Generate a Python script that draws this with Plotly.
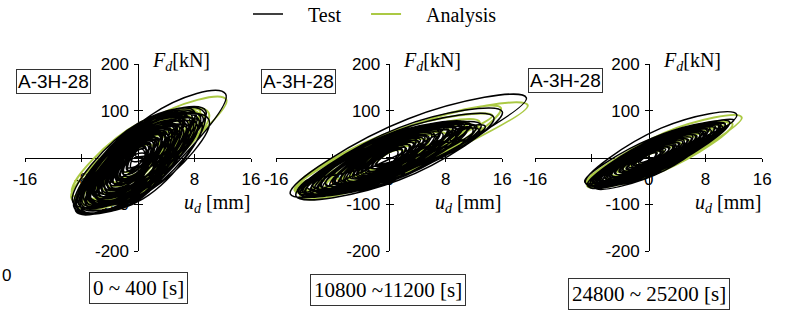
import plotly.graph_objects as go

# ---------------- DATA ----------------
# Each hysteresis cycle: positive tip (u+, F+), negative tip (u-, F-), half-width of loop at its centre (kN)
X_TICKS = [-16, -8, 0, 8, 16]
X_TICK_TEXT = ["-16", "-8", "0", "8", "16"]
Y_TICKS = [-200, -100, 0, 100, 200]
Y_TICK_TEXT = ["-200", "-100", "", "100", "200"]
SPECIMEN = "A-3H-28"
WINDOWS = ["0 ~ 400 [s]", "10800 ~11200 [s]", "24800 ~ 25200 [s]"]

# Panel 1 : 0 ~ 400 s
P1_TEST_UP  = [12.4, 10.0, 9.4, 8.8, 9.0, 8.2, 7.8, 8.4, 7.2, 6.8, 7.4, 6.2, 5.8, 6.4, 5.2, 4.8, 5.6, 4.2, 3.8, 4.4, 3.2, 2.8, 3.4, 2.2, 1.8, 1.2, 6.6, 7.0, 5.0, 8.0, 4.0,
               9.6, 7.0, 5.4, 8.6, 6.0, 4.6, 7.6, 3.6, 9.2, 5.0, 6.8, 2.6, 8.2, 4.0, 6.4,
               3.0, 2.0, 1.4, 2.6, 3.8, 1.0, 4.6, 2.2, 3.4, 0.8, 5.2, 1.6,
               2.4, 1.0, 3.0, 0.6, 1.8]
P1_TEST_FUP = [136, 82, 96, 88, 74, 92, 80, 70, 86, 72, 64, 78, 66, 60, 70, 58, 54, 60, 50, 46, 48, 40, 36, 32, 26, 18, 84, 62, 64, 98, 44,
               100, 76, 68, 82, 74, 56, 90, 50, 86, 52, 70, 34, 76, 54, 80,
               48, 36, 26, 42, 54, 20, 62, 38, 50, 16, 66, 30,
               44, 24, 40, 10, 30]
P1_TEST_UN  = [-8.8, -8.6, -9.2, -8.0, -7.6, -8.4, -7.2, -6.8, -7.8, -6.4, -6.0, -7.0, -5.6, -5.2, -6.2, -4.8, -4.4, -5.4, -4.0, -3.6, -4.6, -3.2, -2.8, -3.0, -2.2, -1.6, -8.8, -5.0, -6.6, -6.0, -7.4,
               -7.0, -8.2, -6.8, -9.0, -5.4, -7.2, -6.6, -5.8, -8.0, -4.2, -8.6, -3.8, -7.0, -5.0, -6.0,
               -3.8, -2.8, -2.0, -3.4, -4.6, -1.4, -5.6, -3.0, -4.2, -1.0, -6.0, -2.4,
               -1.0, -2.0, -0.4, -2.6, -1.6]
P1_TEST_FUN = [-115, -106, -96, -110, -92, -100, -88, -84, -98, -80, -76, -90, -72, -68, -82, -64, -60, -74, -56, -52, -66, -46, -42, -44, -34, -26, -112, -70, -94, -86, -100,
               -92, -104, -94, -108, -80, -96, -90, -84, -100, -62, -110, -52, -88, -76, -84,
               -62, -48, -38, -56, -70, -28, -78, -52, -66, -22, -82, -42,
               -6, -30, 4, -40, -20]
P1_TEST_W   = [80, 76, 74, 72, 68, 72, 66, 62, 68, 60, 56, 62, 54, 50, 56, 48, 44, 48, 40, 38, 42, 34, 30, 30, 24, 18, 74, 54, 58, 70, 50,
               74, 72, 62, 78, 58, 56, 68, 46, 78, 48, 70, 32, 72, 50, 64,
               40, 34, 28, 38, 46, 22, 52, 36, 44, 18, 56, 30,
               22, 18, 16, 16, 20]

P1_ANA_UP  = [12.5, 10.0, 9.4, 8.6, 8.0, 7.2, 6.6, 6.0, 5.2, 4.6, 3.8, 3.0, 2.2, 8.8, 7.6, 5.6]
P1_ANA_FUP = [124, 96, 88, 94, 80, 76, 70, 64, 56, 50, 42, 34, 24, 100, 84, 62]
P1_ANA_UN  = [-9.4, -9.3, -8.8, -8.0, -7.6, -7.0, -6.4, -5.8, -5.2, -4.6, -3.8, -3.0, -2.2, -7.8, -8.6, -6.8]
P1_ANA_FUN = [-88, -78, -100, -96, -90, -84, -78, -70, -64, -56, -48, -38, -28, -104, -92, -86]
P1_ANA_W   = [62, 66, 70, 66, 64, 60, 56, 52, 48, 42, 36, 30, 22, 68, 64, 58]

# Panel 2 : 10800 ~ 11200 s
P2_TEST_UP  = [19.4, 16.0, 14.8, 13.0, 12.2, 11.4, 11.0, 10.4, 9.8, 9.4, 8.8, 8.2, 7.6, 7.0, 6.6, 6.0, 5.4, 4.8, 4.2, 3.6, 3.0, 2.4, 1.8, 10.8, 9.0, 13.6, 12.8, 11.8, -8.8, -9.6, 7.8,
               10.0, 8.4, 6.4, 11.6, 7.2, 5.0, 9.0, 12.4, 4.0, 10.6,
               3.4, 2.2, 1.2, 4.4, 2.8, 5.6, 1.8, 3.8]
P2_TEST_FUP = [128, 98, 86, 70, 64, 72, 60, 66, 58, 64, 54, 60, 50, 56, 46, 50, 42, 40, 34, 30, 26, 20, 16, 74, 62, 66, 58, 62, -40, -48, 64,
               66, 60, 50, 70, 58, 44, 64, 66, 36, 70,
               30, 22, 14, 38, 26, 44, 18, 34]
P2_TEST_UN  = [-14.0, -13.2, -12.4, -12.0, -11.6, -11.2, -10.8, -10.2, -9.8, -9.4, -9.0, -8.4, -7.8, -7.2, -6.8, -6.2, -5.6, -5.0, -4.4, -3.8, -3.2, -2.6, -2.0, -12.6, -11.8, 8.6, 9.4, 7.6, -13.0, -12.6, -10.6,
               -11.0, -9.6, -8.0, -12.2, -7.0, -9.0, -6.0, -10.0, -7.6, -12.8,
               -4.0, -3.0, -1.8, -5.2, -3.4, -6.4, -2.4, -4.6]
P2_TEST_FUN = [-78, -82, -70, -76, -64, -72, -62, -68, -60, -66, -56, -60, -52, -56, -48, -50, -42, -40, -36, -32, -28, -22, -18, -78, -74, 38, 44, 34, -72, -78, -70,
               -66, -62, -54, -74, -50, -58, -46, -66, -52, -76,
               -34, -26, -18, -42, -30, -48, -22, -38]
P2_TEST_W   = [58, 56, 50, 46, 42, 44, 40, 42, 38, 40, 36, 36, 34, 34, 30, 30, 27, 25, 22, 20, 17, 14, 11, 46, 44, 14, 12, 14, 14, 12, 42,
               44, 40, 34, 46, 34, 32, 36, 44, 28, 46,
               24, 20, 14, 28, 22, 32, 16, 26]

P2_ANA_UP  = [19.6, 15.8, 12.8, 11.6, 10.4, 9.2, 8.0, 6.8, 5.6, 4.4, 3.2, 2.0, 13.4, -9.4, 14.6, 11.0]
P2_ANA_FUP = [112, 106, 76, 70, 64, 56, 50, 44, 36, 30, 22, 14, 60, -50, 90, 72]
P2_ANA_UN  = [-13.4, -12.6, -12.0, -11.0, -10.0, -9.0, -7.8, -6.6, -5.4, -4.2, -3.0, -1.8, 9.0, -13.2, -13.0, -12.4]
P2_ANA_FUN = [-70, -84, -66, -72, -60, -62, -52, -46, -38, -30, -22, -14, 40, -68, -62, -76]
P2_ANA_W   = [48, 48, 40, 38, 36, 34, 30, 27, 24, 20, 16, 12, 12, 12, 44, 40]

# Panel 3 : 24800 ~ 25200 s
P3_TEST_UP  = [12.4, 11.4, 10.8, 10.4, 10.0, 9.6, 9.2, 8.8, 8.4, 8.0, 7.6, 7.2, 6.6, 6.0, 5.4, 4.8, 4.2, 3.6, 3.0, 2.4, 1.8, 1.2, 12.0, 9.8, 8.6,
               10.2, 8.2, 6.2, 9.4, 7.4, 5.0, 10.8, 3.8,
               3.4, 2.0, 1.0, 4.4, 2.8, 5.6, 1.6, 3.8, 6.8, 7.8]
P3_TEST_FUP = [92, 76, 70, 66, 68, 62, 64, 58, 60, 54, 56, 50, 46, 42, 38, 34, 30, 26, 22, 18, 14, 10, 80, 70, 64,
               70, 58, 46, 66, 52, 36, 72, 28,
               24, 16, 10, 30, 20, 38, 12, 28, 46, 52]
P3_TEST_UN  = [-8.9, -8.4, -8.2, -8.0, -7.8, -7.6, -7.4, -7.2, -7.0, -6.6, -6.4, -6.0, -5.6, -5.2, -4.8, -4.2, -3.8, -3.2, -2.8, -2.2, -1.8, -1.2, -7.6, -9.0, -8.6,
               -8.6, -7.8, -6.8, -8.2, -5.8, -7.0, -7.4, -5.6,
               -3.6, -2.4, -1.4, -4.6, -3.0, -5.4, -2.0, -4.0, -6.2, -7.0]
P3_TEST_FUN = [-54, -62, -56, -58, -52, -54, -50, -52, -48, -46, -48, -44, -40, -38, -34, -30, -28, -24, -20, -16, -14, -10, -64, -52, -58,
               -60, -54, -48, -56, -42, -50, -56, -40,
               -26, -18, -12, -34, -22, -40, -16, -30, -44, -50]
P3_TEST_W   = [44, 36, 34, 33, 32, 31, 30, 29, 28, 27, 26, 25, 23, 21, 19, 17, 15, 13, 11, 9, 8, 6, 36, 32, 30,
               36, 32, 28, 34, 28, 24, 36, 20,
               18, 14, 10, 22, 16, 24, 12, 20, 28, 30]

P3_ANA_UP  = [13.1, 11.8, 11.2, 10.8, 10.2, 9.8, 9.0, 8.8, 7.8, 6.8, 5.8, 4.6, 3.4, 2.2]
P3_ANA_FUP = [86, 72, 74, 66, 68, 60, 62, 54, 48, 42, 36, 30, 22, 14]
P3_ANA_UN  = [-8.7, -8.4, -8.8, -8.0, -8.2, -7.4, -7.8, -6.8, -6.0, -5.2, -4.4, -3.6, -2.6, -1.8]
P3_ANA_FUN = [-60, -60, -54, -54, -58, -50, -52, -46, -42, -36, -30, -26, -20, -14]
P3_ANA_W   = [40, 32, 32, 30, 30, 28, 28, 26, 23, 20, 17, 14, 11, 8]

# ---------------- STYLE / LAYOUT ----------------
W, H = 787, 320
TEST_COLOR = "#000000"
ANA_COLOR = "#abc944"
SANS = "Liberation Sans"
SERIF = "Liberation Serif"
NB = "\u00a0"

# pixel geometry of each panel: x pixel of -16 and +16, data half-range
PANELS = [
    dict(xl=25.0, xr=251.0, rdata=19.0, lab_x=53.5, lab_y=81, box_x=138, box_y=288),
    dict(xl=276.2, xr=502.3, rdata=21.0, lab_x=298, lab_y=81, box_x=387.5, box_y=290),
    dict(xl=535.0, xr=762.3, rdata=19.0, lab_x=565, lab_y=80, box_x=649, box_y=293.5),
]
Y_TOP, Y_BOT = 64.0, 251.2  # pixel rows of +200 and -200

SERIES = [
    [(P1_ANA_UP, P1_ANA_FUP, P1_ANA_UN, P1_ANA_FUN, P1_ANA_W), (P1_TEST_UP, P1_TEST_FUP, P1_TEST_UN, P1_TEST_FUN, P1_TEST_W)],
    [(P2_ANA_UP, P2_ANA_FUP, P2_ANA_UN, P2_ANA_FUN, P2_ANA_W), (P2_TEST_UP, P2_TEST_FUP, P2_TEST_UN, P2_TEST_FUN, P2_TEST_W)],
    [(P3_ANA_UP, P3_ANA_FUP, P3_ANA_UN, P3_ANA_FUN, P3_ANA_W), (P3_TEST_UP, P3_TEST_FUP, P3_TEST_UN, P3_TEST_FUN, P3_TEST_W)],
]


def loop_path(up, fup, un, fun, w):
    """Connect the read tips / centre widths of successive cycles into one loading path."""
    xs, ys = [], []
    uc0, fc0 = (up[0] + un[0]) / 2, (fup[0] + fun[0]) / 2
    xs.append(uc0)
    ys.append(fc0 - w[0])
    for a, b, c, d, e in zip(up, fup, un, fun, w):
        uc, fc = (a + c) / 2, (b + d) / 2
        xs += [a, uc, c, uc]
        ys += [b, fc + e, d, fc - e]
    xs.append(up[-1])
    ys.append(fup[-1])
    return xs, ys


fig = go.Figure()
layout = dict(
    width=W, height=H, margin=dict(l=0, r=0, t=0, b=0, autoexpand=False),
    paper_bgcolor="white", plot_bgcolor="rgba(0,0,0,0)",
    showlegend=True,
    legend=dict(orientation="h", x=248 / W, xanchor="left", y=1 - 14 / H, yanchor="middle",
                font=dict(family=SERIF, size=20, color="black"), bgcolor="rgba(0,0,0,0)",
                traceorder="normal"),
)

ydom = [1 - Y_BOT / H, 1 - Y_TOP / H]
y0_px = (Y_TOP + Y_BOT) / 2
annotations = []
for i, p in enumerate(PANELS):
    kx = (p["xr"] - p["xl"]) / 32.0
    x0 = (p["xl"] + p["xr"]) / 2
    vis, dup, dat = i + 1, i + 4, i + 7
    common_x = dict(range=[-16, 16], domain=[p["xl"] / W, p["xr"] / W], anchor="free",
                    position=1 - y0_px / H, tickvals=X_TICKS, showgrid=False, zeroline=False,
                    fixedrange=True, tickcolor="black", tickwidth=1, ticklen=3.5)
    common_y = dict(range=[-200, 200], domain=ydom, anchor="free", position=x0 / W,
                    tickvals=Y_TICKS, showgrid=False, zeroline=False, fixedrange=True,
                    tickcolor="black", tickwidth=1, ticklen=3.5)
    layout[f"xaxis{vis}"] = dict(common_x, ticktext=X_TICK_TEXT, showline=True, linecolor="black",
                                 linewidth=1.2, ticks="outside", ticklabelstandoff=2,
                                 tickfont=dict(family=SANS, size=17, color="black"))
    layout[f"yaxis{vis}"] = dict(common_y, ticktext=Y_TICK_TEXT, showline=True, linecolor="black",
                                 linewidth=1.2, ticks="outside", ticklabelstandoff=2,
                                 tickfont=dict(family=SANS, size=17, color="black"))
    layout[f"xaxis{dup}"] = dict(common_x, showline=False, ticks="inside", showticklabels=False)
    layout[f"yaxis{dup}"] = dict(common_y, showline=False, ticks="inside", showticklabels=False)
    r = p["rdata"]
    layout[f"xaxis{dat}"] = dict(range=[-r, r], domain=[(x0 - r * kx) / W, (x0 + r * kx) / W],
                                 anchor=f"y{dat}", visible=False, fixedrange=True)
    layout[f"yaxis{dat}"] = dict(range=[-200, 200], domain=ydom, anchor=f"x{dat}",
                                 visible=False, fixedrange=True)

    for k in (vis, dup):
        fig.add_trace(go.Scatter(x=[None], y=[None], xaxis=f"x{k}", yaxis=f"y{k}",
                                 showlegend=False, hoverinfo="skip", mode="lines"))

    ana, test = SERIES[i]
    for (arrs, name, label, color, lw, rank) in [
            (ana, "Analysis", NB * 4 + "Analysis", ANA_COLOR, 2.0, 2),
            (test, "Test", NB * 4 + "Test" + NB * 4, TEST_COLOR, 1.5, 1)]:
        xs, ys = loop_path(*arrs)
        fig.add_trace(go.Scatter(
            x=xs, y=ys, xaxis=f"x{dat}", yaxis=f"y{dat}", mode="lines", name=label,
            line=dict(color=color, width=lw, shape="spline", smoothing=1.3),
            showlegend=(i == 0), legendrank=rank, legendgroup=name, hoverinfo="skip"))

    # axis titles
    annotations.append(dict(text="<i>F</i><sub><i>d</i></sub>[kN]", xref="paper", yref="paper",
                            x=(x0 + 12) / W, y=1 - 62 / H, xanchor="left", yanchor="middle",
                            showarrow=False, font=dict(family=SERIF, size=20, color="black")))
    annotations.append(dict(text="<i>u</i><sub><i>d</i></sub> [mm]", xref="paper", yref="paper",
                            x=(p["xr"] + 1) / W, y=1 - 203 / H, xanchor="right", yanchor="middle",
                            showarrow=False, font=dict(family=SERIF, size=20, color="black")))
    # specimen label
    annotations.append(dict(text=SPECIMEN, xref="paper", yref="paper", x=p["lab_x"] / W,
                            y=1 - p["lab_y"] / H, xanchor="center", yanchor="middle", showarrow=False,
                            font=dict(family=SANS, size=19, color="black"), bordercolor="#333",
                            borderwidth=1, borderpad=1, bgcolor="white"))
    # time window box
    annotations.append(dict(text=WINDOWS[i], xref="paper", yref="paper", x=p["box_x"] / W,
                            y=1 - p["box_y"] / H, xanchor="center", yanchor="middle", showarrow=False,
                            font=dict(family=SERIF, size=21, color="black"), bordercolor="#333",
                            borderwidth=1, borderpad=3, bgcolor="white"))

annotations.append(dict(text="0", xref="paper", yref="paper", x=0, y=1 - 275 / H,
                        xanchor="left", yanchor="middle", showarrow=False,
                        font=dict(family=SANS, size=17, color="black")))
layout["annotations"] = annotations
fig.update_layout(**layout)
fig.write_html("out.html", config={"displayModeBar": False},
               post_script="document.body.style.margin='0px';document.body.style.overflow='hidden';")
